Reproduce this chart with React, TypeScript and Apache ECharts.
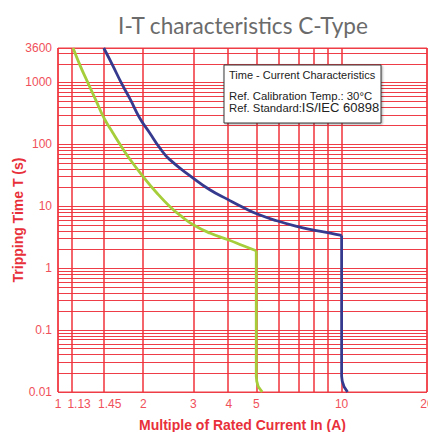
import React, { useEffect, useRef } from 'react';
import * as echarts from 'echarts';

// Grid / tick positions (multiples of rated current, seconds)
const xTickValues = [1, 1.13, 1.45, 2, 3, 4, 5, 6, 7, 8, 9, 10, 20];
const xLabelValues = [1, 1.13, 1.45, 2, 3, 4, 5, 10, 20];
const xLabelTexts = ['1', '1.13', '1.45', '2', '3', '4', '5', '10', '20'];

const yTickValues = [
  0.01, 0.02, 0.03, 0.04, 0.05, 0.06, 0.07, 0.08, 0.09,
  0.1, 0.2, 0.3, 0.4, 0.5, 0.6, 0.7, 0.8, 0.9,
  1, 2, 3, 4, 5, 6, 7, 8, 9,
  10, 20, 30, 40, 50, 60, 70, 80, 90,
  100, 200, 300, 400, 500, 600, 700, 800, 900,
  1000, 2000, 3000, 3600,
];
const yLabelValues = [0.01, 0.1, 1, 10, 100, 1000, 3600];
const yLabelTexts = ['0.01', '0.1', '1', '10', '100', '1000', '3600'];

// Lower tripping limit (green): curved part, then the instantaneous drop
const lowerX = [1.13, 1.198, 1.275, 1.357, 1.452, 1.562, 1.686, 1.79, 1.994, 2.224, 2.478, 2.727, 2.996, 3.43, 3.98, 4.5, 5.0, 5.0, 5.02, 5.08, 5.25];
const lowerT = [3600, 1853, 984, 528, 267, 153, 87.5, 58, 30.4, 16.7, 9.95, 6.85, 5.03, 3.69, 2.88, 2.3, 1.91, 0.018, 0.015, 0.0122, 0.01];
const lowerCorner = 16;

// Upper tripping limit (blue)
const upperX = [1.45, 1.562, 1.672, 1.8, 1.941, 2.106, 2.285, 2.478, 2.996, 3.43, 3.98, 4.5, 5.02, 5.91, 6.95, 7.96, 9.12, 10.0, 10.0, 10.05, 10.2, 10.49];
const upperT = [3600, 1853, 984, 528, 267, 153, 87.5, 56.6, 28.6, 18.5, 12.8, 9.57, 7.57, 5.83, 4.72, 4.13, 3.69, 3.38, 0.018, 0.015, 0.0122, 0.01];
const upperCorner = 17;

const lg = (v: number) => Math.log10(v);

const GRID = '#ef3d47';
const VGRID = '#f0303a';
const LABEL = '#f0505a';
const NAME = '#e8303a';
const GREEN = '#a6cd3a';
const BLUE = '#363a8e';
const FONT = '"Liberation Sans", Arial, sans-serif';

function lookup(values: number[], texts: string[], shifted: string[] = []) {
  return (val: number) => {
    for (let i = 0; i < values.length; i++) {
      if (Math.abs(lg(values[i]) - val) < 1e-6) {
        return shifted.indexOf(texts[i]) >= 0 ? '{s|' + texts[i] + '}' : texts[i];
      }
    }
    return '';
  };
}

function pts(xs: number[], ts: number[], from: number, to: number) {
  const out: number[][] = [];
  for (let i = from; i <= to; i++) out.push([lg(xs[i]), lg(ts[i])]);
  return out;
}

export default function App() {
  const ref = useRef<HTMLDivElement>(null);
  useEffect(() => {
    if (!ref.current) return;
    const chart = echarts.init(ref.current, undefined, { renderer: 'svg' });
    const lineBase = { type: 'line', symbol: 'none', z: 5, silent: true };
    const option: any = {
      animation: false,
      title: {
        text: 'I-T characteristics C-Type',
        left: 238,
        top: 9,
        textAlign: 'center',
        textStyle: { color: '#6b6b6b', fontSize: 22.6, fontWeight: 'normal', fontFamily: 'Lato' },
      },
      grid: {
        left: 58, right: 1, top: 48, bottom: 40,
        show: true, borderColor: GRID, borderWidth: 1,
        outerBoundsMode: 'none',
      },
      xAxis: {
        type: 'value',
        min: 0,
        max: lg(20),
        axisLine: { show: false },
        axisTick: { show: false, customValues: xTickValues.map(lg) },
        axisLabel: {
          customValues: xLabelValues.map(lg),
          formatter: lookup(xLabelValues, xLabelTexts, ['1.13', '1.45']),
          color: LABEL, fontSize: 12, margin: 6, fontFamily: FONT,
          rich: { s: { color: LABEL, fontSize: 12, fontFamily: FONT, padding: [0, 0, 0, 12] } },
        },
        splitLine: { show: false },
        name: 'Multiple of Rated Current In (A)',
        nameLocation: 'middle',
        nameGap: 26,
        nameMoveOverlap: false,
        nameTextStyle: { color: NAME, fontSize: 14, fontWeight: 'bold', fontFamily: FONT },
      },
      yAxis: {
        type: 'value',
        min: -2,
        max: lg(3600),
        axisLine: { show: false },
        axisTick: { show: false, customValues: yTickValues.map(lg) },
        axisLabel: {
          customValues: yLabelValues.map(lg),
          formatter: lookup(yLabelValues, yLabelTexts),
          color: LABEL, fontSize: 12, margin: 6, fontFamily: FONT,
        },
        splitLine: { show: true, lineStyle: { color: GRID, width: 1, opacity: 1 } },
        name: 'Tripping Time T (s)',
        nameLocation: 'middle',
        nameGap: 33,
        nameMoveOverlap: false,
        nameTextStyle: { color: NAME, fontSize: 14, fontWeight: 'bold', fontFamily: FONT },
      },
      graphic: [
        {
          type: 'group',
          x: 224,
          y: 65,
          z: 100,
          children: [
            {
              type: 'rect',
              z: 100,
              shape: { x: 0, y: 0, width: 157, height: 58 },
              style: {
                fill: '#ffffff', stroke: '#3a3a3a', lineWidth: 1,
                shadowBlur: 2, shadowOffsetX: 1, shadowOffsetY: 1, shadowColor: 'rgba(0,0,0,0.35)',
              },
            },
            {
              type: 'text', x: 5, y: 9.5, z: 101,
              style: { text: 'Time - Current Characteristics', fontSize: 11, lineHeight: 11, fontFamily: FONT, fill: '#222', verticalAlign: 'middle' },
            },
            {
              type: 'text', x: 5, y: 30.5, z: 101,
              style: { text: 'Ref. Calibration Temp.: 30°C', fontSize: 11.3, lineHeight: 10, fontFamily: FONT, fill: '#222', verticalAlign: 'middle' },
            },
            {
              type: 'text', x: 5, y: 42.8, z: 101,
              style: {
                text: '{a|Ref. Standard:}{b|IS/IEC 60898}',
                fontFamily: FONT, fill: '#222', verticalAlign: 'middle', lineHeight: 11,
                rich: {
                  a: { fontSize: 11.3, lineHeight: 11, fontFamily: FONT, fill: '#222' },
                  b: { fontSize: 13, lineHeight: 11, fontFamily: FONT, fill: '#222' },
                },
              },
            },
          ],
        },
      ],
      series: [
        {
          type: 'line',
          name: 'grid',
          data: [],
          silent: true,
          z: 1,
          markLine: {
            silent: true,
            symbol: ['none', 'none'],
            label: { show: false },
            emphasis: { disabled: true },
            lineStyle: { color: VGRID, width: 1.5, type: 'solid', opacity: 1 },
            data: xTickValues.map((v) => ({ xAxis: lg(v) })),
          },
        },
        {
          ...lineBase,
          name: 'Lower limit',
          smooth: 0.5,
          data: pts(lowerX, lowerT, 0, lowerCorner),
          lineStyle: { color: GREEN, width: 2.8 },
          itemStyle: { color: GREEN },
        },
        {
          ...lineBase,
          name: 'Lower limit',
          data: pts(lowerX, lowerT, lowerCorner, lowerX.length - 1),
          lineStyle: { color: GREEN, width: 2.8 },
          itemStyle: { color: GREEN },
        },
        {
          ...lineBase,
          name: 'Upper limit',
          smooth: 0.5,
          data: pts(upperX, upperT, 0, upperCorner),
          lineStyle: { color: BLUE, width: 2.8 },
          itemStyle: { color: BLUE },
        },
        {
          ...lineBase,
          name: 'Upper limit',
          data: pts(upperX, upperT, upperCorner, upperX.length - 1),
          lineStyle: { color: BLUE, width: 2.8 },
          itemStyle: { color: BLUE },
        },
      ],
    };
    chart.setOption(option);
    return () => chart.dispose();
  }, []);
  return (
    <div
      ref={ref}
      style={{ position: 'fixed', left: 0, top: 0, width: 428, height: 432, background: '#fff' }}
    />
  );
}
